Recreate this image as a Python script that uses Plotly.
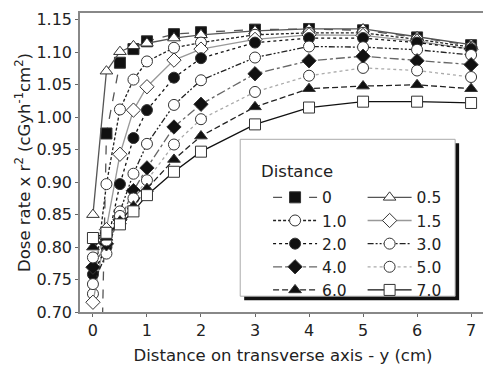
import plotly.graph_objects as go

# Data
x_cm = [0, 0.25, 0.5, 0.75, 1, 1.5, 2, 3, 4, 5, 6, 7]
distance_labels = ["0", "0.5", "1.0", "1.5", "2.0", "3.0", "4.0", "5.0", "6.0", "7.0"]
d_0 = [0.0, 0.975, 1.084, 1.105, 1.117, 1.128, 1.131, 1.135, 1.136, 1.134, 1.123, 1.111]
d_05 = [0.850, 1.071, 1.101, 1.110, 1.114, 1.122, 1.127, 1.133, 1.136, 1.136, 1.124, 1.112]
d_10 = [0.728, 0.897, 1.012, 1.058, 1.086, 1.107, 1.115, 1.127, 1.130, 1.130, 1.120, 1.108]
d_15 = [0.715, 0.827, 0.943, 1.011, 1.047, 1.088, 1.105, 1.120, 1.127, 1.126, 1.117, 1.105]
d_20 = [0.758, 0.800, 0.897, 0.968, 1.011, 1.061, 1.091, 1.115, 1.122, 1.122, 1.115, 1.105]
d_30 = [0.743, 0.790, 0.855, 0.913, 0.959, 1.019, 1.057, 1.092, 1.109, 1.108, 1.104, 1.096]
d_40 = [0.769, 0.805, 0.842, 0.887, 0.922, 0.985, 1.020, 1.067, 1.087, 1.094, 1.087, 1.081]
d_50 = [0.784, 0.810, 0.848, 0.875, 0.903, 0.958, 0.997, 1.039, 1.064, 1.076, 1.072, 1.062]
d_60 = [0.800, 0.815, 0.840, 0.863, 0.890, 0.935, 0.971, 1.016, 1.044, 1.048, 1.050, 1.044]
d_70 = [0.814, 0.822, 0.835, 0.855, 0.880, 0.916, 0.947, 0.989, 1.015, 1.024, 1.024, 1.022]
y_ticks = [0.70, 0.75, 0.80, 0.85, 0.90, 0.95, 1.00, 1.05, 1.10, 1.15]
x_ticks = [0, 1, 2, 3, 4, 5, 6, 7]

series = [d_0, d_05, d_10, d_15, d_20, d_30, d_40, d_50, d_60, d_70]

# style: (symbol, fill, line color, dash, legend)
styles = [
    ("square", "#111", "#555", "dash", "legend"),
    ("triangle-up", "white", "#555", "solid", "legend2"),
    ("circle", "white", "#222", "3px,2px", "legend"),
    ("diamond", "white", "#999", "solid", "legend2"),
    ("circle", "#111", "#111", "dot", "legend"),
    ("circle", "white", "#222", "6px,2px,2px,2px,2px,2px", "legend2"),
    ("diamond", "#111", "#666", "dashdot", "legend"),
    ("circle", "white", "#aaa", "dot", "legend2"),
    ("triangle-up", "#111", "#222", "6px,3px", "legend"),
    ("square", "white", "#111", "solid", "legend2"),
]

FONT = "DejaVu Sans, Verdana, sans-serif"

fig = go.Figure()
for i, (name, vals) in enumerate(zip(distance_labels, series)):
    sym, fill, lc, dash, leg = styles[i]
    fig.add_trace(go.Scatter(
        x=x_cm, y=vals, name=name, mode="lines+markers",
        legend=leg,
        line=dict(color=lc, dash=dash, width=1.3),
        marker=dict(symbol=sym, size=11, color=fill,
                    line=dict(color="#333", width=1)),
    ))

# page is offset by the 8px body margin
OFF = 8
W, H = 491 - OFF, 365 - OFF
L, R, T, B = 72, 3, 5, 49
pw, ph = W - L - R, H - T - B

def px(page_x):
    return (page_x - OFF - L) / pw

def py(page_y):
    return (H - B - (page_y - OFF)) / ph

fig.update_layout(
    width=W, height=H,
    margin=dict(l=L, r=R, t=T, b=B),
    paper_bgcolor="white", plot_bgcolor="white",
    font=dict(family=FONT, size=16, color="#222"),
    showlegend=True,
    legend=dict(
        x=px(269), y=py(183), xanchor="left", yanchor="top",
        bgcolor="rgba(0,0,0,0)", borderwidth=0,
        font=dict(size=15.5), itemwidth=44,
    ),
    legend2=dict(
        x=px(364), y=py(183), xanchor="left", yanchor="top",
        bgcolor="rgba(0,0,0,0)", borderwidth=0,
        font=dict(size=15.5), itemwidth=44,
    ),
    xaxis=dict(
        range=[-0.2395, 7.276], tickvals=x_ticks, ticks="outside", ticklen=3,
        tickcolor="#666", showline=True, linecolor="#888", linewidth=1.5,
        mirror=True, showgrid=False, zeroline=False,
        title=dict(text="Distance on transverse axis - y (cm)", standoff=10,
                   font=dict(size=16.5)),
        tickfont=dict(size=16),
    ),
    yaxis=dict(
        range=[0.70, 1.1606], tickvals=y_ticks, tickformat=".2f",
        ticks="outside", ticklen=3, tickcolor="#666",
        showline=True, linecolor="#888", linewidth=1.5, mirror=True,
        showgrid=False, zeroline=False,
        title=dict(text="Dose rate x r<sup>2</sup> (cGyh<sup>-1</sup>cm<sup>2</sup>)",
                   standoff=2, font=dict(size=16.5)),
        tickfont=dict(size=16),
    ),
    shapes=[
        dict(type="rect", xref="paper", yref="paper",
             x0=px(245), x1=px(461), y0=py(145), y1=py(304),
             fillcolor="#111", line=dict(width=0), layer="above"),
        dict(type="rect", xref="paper", yref="paper",
             x0=px(241), x1=px(457), y0=py(141), y1=py(300),
             fillcolor="white", line=dict(color="#aaa", width=1), layer="above"),
    ],
    annotations=[
        dict(text="Distance", xref="paper", yref="paper",
             x=px(260), y=py(174), xanchor="left", yanchor="middle",
             showarrow=False, font=dict(size=16.5, family=FONT, color="#222")),
    ],
)

fig.write_html("out.html")
